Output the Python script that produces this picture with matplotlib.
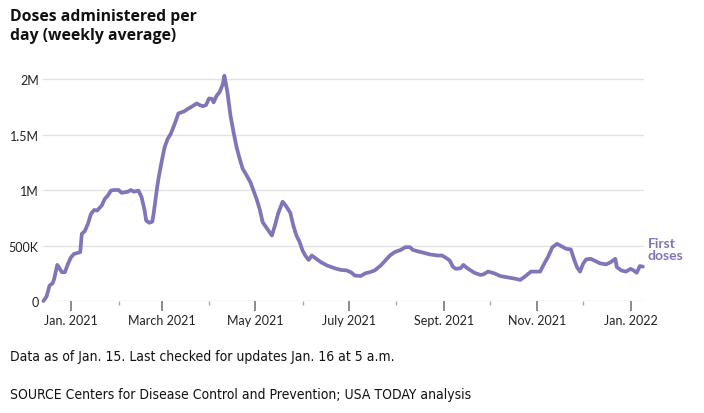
import matplotlib
matplotlib.use("Agg")
import matplotlib.pyplot as plt
import pandas as pd

# First doses per day, weekly average (thousands)
dates = [
    "2020-12-14", "2020-12-16", "2020-12-18", "2020-12-20", "2020-12-21", "2020-12-23",
    "2020-12-24", "2020-12-26", "2020-12-28", "2020-12-30", "2021-01-01", "2021-01-03",
    "2021-01-07", "2021-01-08", "2021-01-10", "2021-01-12", "2021-01-14", "2021-01-16",
    "2021-01-18", "2021-01-21", "2021-01-23", "2021-01-25", "2021-01-27", "2021-01-29",
    "2021-02-01", "2021-02-03", "2021-02-05", "2021-02-07", "2021-02-09", "2021-02-11",
    "2021-02-14", "2021-02-16", "2021-02-18", "2021-02-19", "2021-02-21", "2021-02-23",
    "2021-02-24", "2021-02-26", "2021-02-27", "2021-03-01", "2021-03-03", "2021-03-05",
    "2021-03-07", "2021-03-10", "2021-03-12", "2021-03-14", "2021-03-16", "2021-03-18",
    "2021-03-20", "2021-03-24", "2021-03-26", "2021-03-28", "2021-03-30", "2021-04-01",
    "2021-04-03", "2021-04-04", "2021-04-06", "2021-04-08", "2021-04-10", "2021-04-11",
    "2021-04-13", "2021-04-15", "2021-04-17", "2021-04-19", "2021-04-21", "2021-04-23",
    "2021-04-25", "2021-04-28", "2021-04-30", "2021-05-02", "2021-05-04", "2021-05-06",
    "2021-05-09", "2021-05-12", "2021-05-14", "2021-05-16", "2021-05-19", "2021-05-21",
    "2021-05-24", "2021-05-26", "2021-05-28", "2021-05-30", "2021-06-01", "2021-06-03",
    "2021-06-05", "2021-06-07", "2021-06-10", "2021-06-13", "2021-06-17", "2021-06-22",
    "2021-06-26", "2021-06-30", "2021-07-03", "2021-07-05", "2021-07-09", "2021-07-12",
    "2021-07-15", "2021-07-18", "2021-07-22", "2021-07-25", "2021-07-28", "2021-07-31",
    "2021-08-04", "2021-08-07", "2021-08-10", "2021-08-12", "2021-08-16", "2021-08-19",
    "2021-08-23", "2021-08-28", "2021-08-31", "2021-09-03", "2021-09-05", "2021-09-07",
    "2021-09-09", "2021-09-12", "2021-09-14", "2021-09-16", "2021-09-21", "2021-09-25",
    "2021-09-27", "2021-09-30", "2021-10-04", "2021-10-08", "2021-10-14", "2021-10-18",
    "2021-10-21", "2021-10-24", "2021-10-28", "2021-10-31", "2021-11-03", "2021-11-05",
    "2021-11-08", "2021-11-11", "2021-11-14", "2021-11-16", "2021-11-20", "2021-11-23",
    "2021-11-25", "2021-11-27", "2021-11-29", "2021-12-01", "2021-12-03", "2021-12-06",
    "2021-12-09", "2021-12-12", "2021-12-16", "2021-12-19", "2021-12-22", "2021-12-23",
    "2021-12-26", "2021-12-29", "2022-01-01", "2022-01-03", "2022-01-05", "2022-01-07",
    "2022-01-09",
]
first_doses_k = [
    0, 40, 140, 160, 200, 325,
    305, 260, 260, 335, 395, 425,
    440, 605, 630, 695, 785, 820,
    815, 860, 920, 950, 995, 1000,
    1000, 975, 980, 985, 1000, 985,
    995, 935, 815, 725, 705, 715,
    800, 1010, 1100, 1250, 1385, 1460,
    1505, 1610, 1690, 1700, 1710, 1730,
    1745, 1780, 1765, 1755, 1765, 1825,
    1820, 1790, 1850, 1885, 1955, 2030,
    1880, 1670, 1520, 1385, 1280, 1190,
    1145, 1070, 995, 920, 830, 710,
    650, 590, 680, 785, 895, 860,
    795, 680, 590, 535, 455, 405,
    370, 410, 380, 350, 320, 295,
    280, 275, 255, 230, 225, 250,
    260, 275, 320, 365, 410, 440,
    460, 485, 485, 460, 445, 435,
    420, 410, 410, 385, 365, 310,
    290, 295, 325, 300, 255, 235,
    240, 265, 250, 225, 210, 200,
    190, 220, 265, 265, 265, 320,
    395, 485, 515, 500, 470, 465,
    380, 305, 265, 335, 375, 380,
    360, 340, 330, 350, 380, 305,
    275, 265, 290, 275, 255, 315,
    310,
]

y_ticks = [0, 500000, 1000000, 1500000, 2000000]
y_labels = ["0", "500K", "1M", "1.5M", "2M"]
major_ticks = ["2021-01-01", "2021-03-01", "2021-05-01", "2021-07-01",
               "2021-09-01", "2021-11-01", "2022-01-01"]
major_labels = ["Jan. 2021", "March 2021", "May 2021", "July 2021",
                "Sept. 2021", "Nov. 2021", "Jan. 2022"]
minor_ticks = ["2021-02-01", "2021-04-01", "2021-06-01", "2021-08-01",
               "2021-10-01", "2021-12-01"]

purple = "#7f76ba"
plt.rcParams["font.family"] = ["Lato", "DejaVu Sans"]

fig = plt.figure(figsize=(7.04, 4.14), dpi=100)
ax = fig.add_axes([0.061, 0.2705, 0.854, 0.563])

x = pd.to_datetime(dates)
y = [v * 1000 for v in first_doses_k]
ax.plot(x, y, color=purple, lw=2.7, solid_capstyle="round",
        solid_joinstyle="round", clip_on=False, zorder=3)

ax.set_xlim(pd.Timestamp("2020-12-13 16:00"), pd.Timestamp("2022-01-09 20:00"))
ax.set_ylim(0, 2100000)

ax.set_yticks(y_ticks)
ax.set_yticklabels(y_labels)
ax.set_xticks(pd.to_datetime(major_ticks))
ax.set_xticklabels(major_labels)
ax.set_xticks(pd.to_datetime(minor_ticks), minor=True)

ax.grid(axis="y", color="#e3e3e3", lw=1)
ax.set_axisbelow(True)
for s in ax.spines.values():
    s.set_visible(False)

ax.tick_params(axis="y", length=0, pad=3, labelsize=9, labelcolor="#222222")
ax.tick_params(axis="x", which="major", length=7, width=1.4, color="#8a8a8a",
               pad=2.5, labelsize=9, labelcolor="#222222")
ax.tick_params(axis="x", which="minor", length=3, width=1, color="#aaaaaa")

ax.text(1.006, 0.223, "First\ndoses", transform=ax.transAxes, color=purple,
        fontsize=10, fontweight="bold", va="center", ha="left", linespacing=1.05)

fig.text(0.014, 0.978, "Doses administered per\nday (weekly average)",
         fontsize=11.3, fontweight="bold", family=["Open Sans", "DejaVu Sans"],
         va="top", ha="left", color="#111111", linespacing=1.2)

foot = dict(fontsize=10, family=["DejaVu Sans"], stretch="condensed",
            va="center", ha="left", color="#111111")
fig.text(0.014, 0.137, "Data as of Jan. 15. Last checked for updates Jan. 16 at 5 a.m.", **foot)
fig.text(0.014, 0.047, "SOURCE Centers for Disease Control and Prevention; USA TODAY analysis", **foot)

fig.savefig("out.png", dpi=100)
